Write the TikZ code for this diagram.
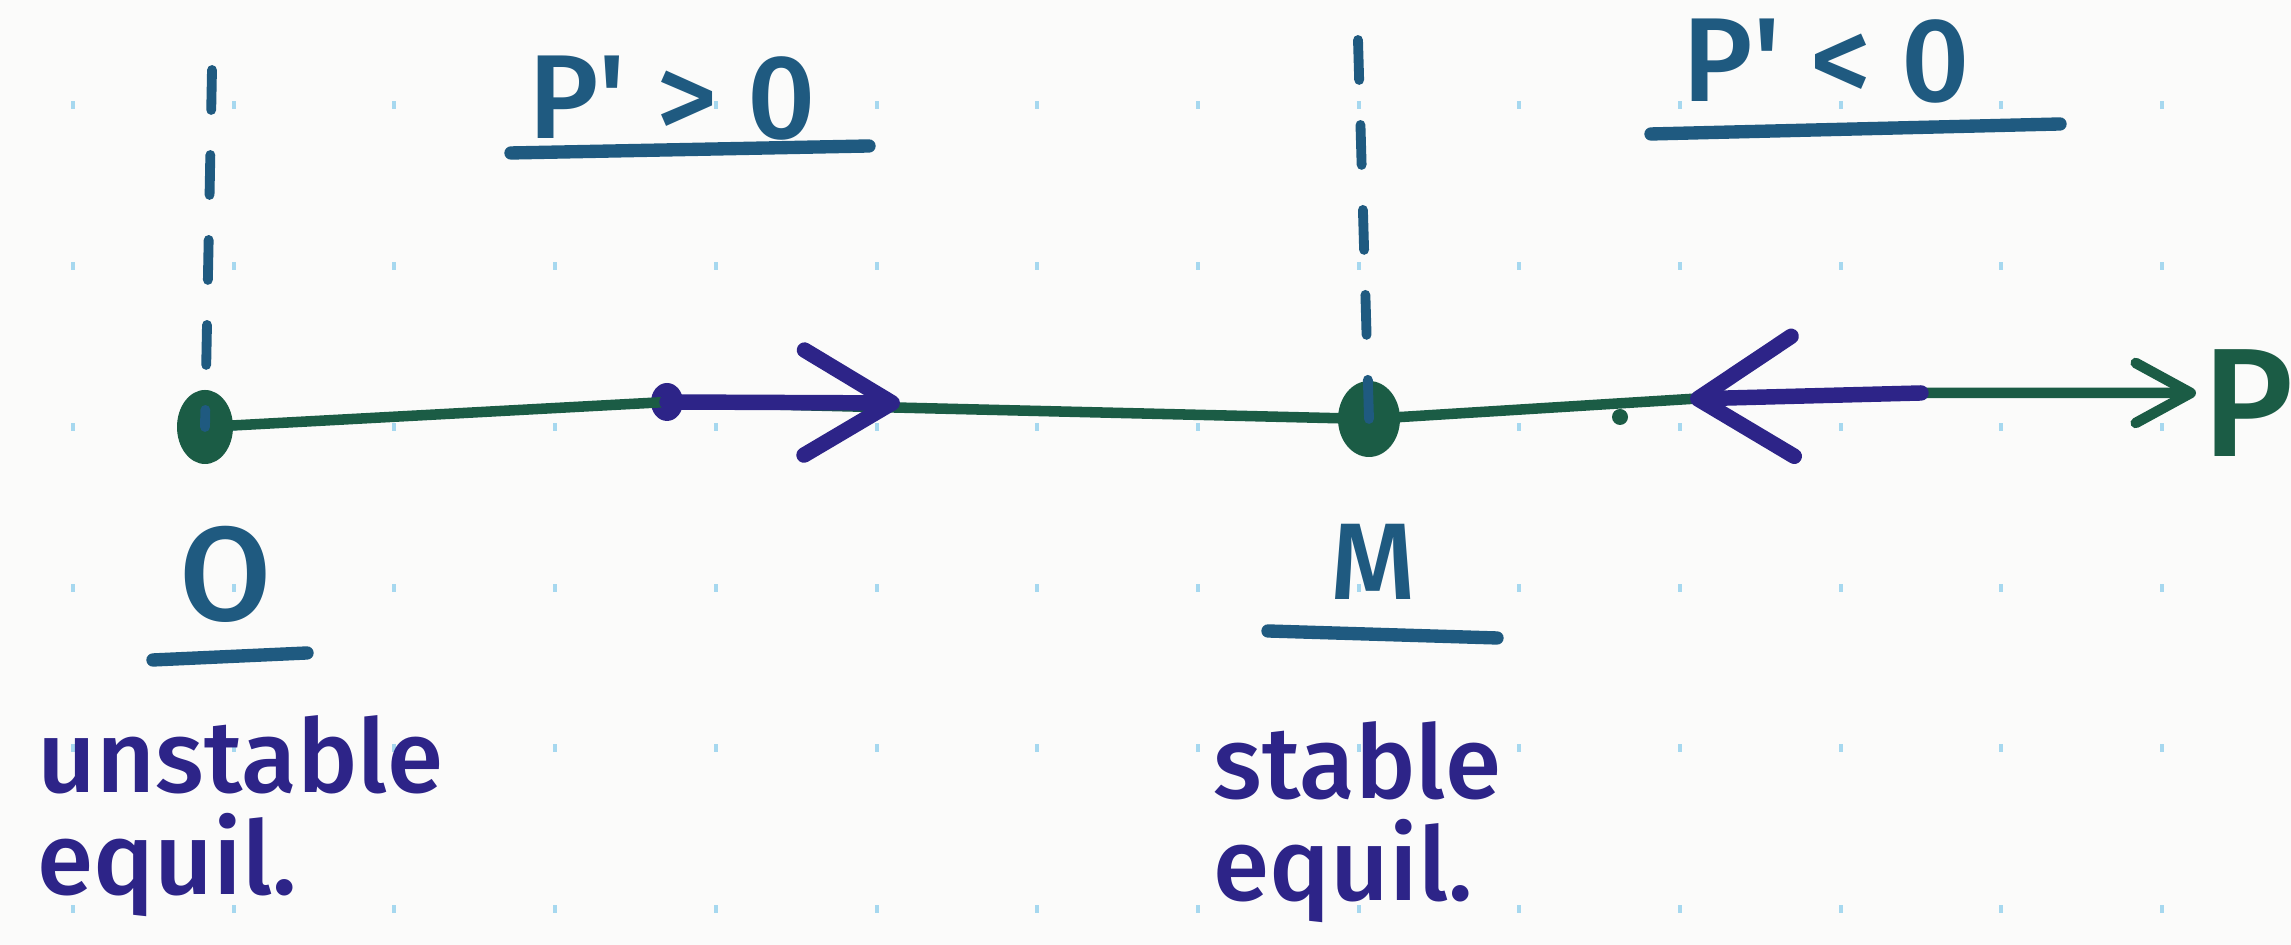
\documentclass[tikz,border=0pt]{standalone}
\usepackage{fontspec}
\IfFontExistsTF{Fira Sans Medium}
  {\setmainfont{Fira Sans Medium}}
  {\setmainfont{Fira Sans}}
\usetikzlibrary{arrows.meta,positioning,shapes.geometric}
\definecolor{Paper}{HTML}{FBFBFA}
\definecolor{Axis}{HTML}{1B5C45}
\definecolor{Sign}{HTML}{1F5A80}
\definecolor{Flow}{HTML}{2D2488}
\definecolor{Grid}{HTML}{A6D8EF}
\tikzset{
  axisline/.style={draw=Axis,line width=3pt,line cap=round,line join=round},
  eq/.style={ellipse,fill=Axis,inner sep=0pt,minimum width=5.6mm,minimum height=7.4mm},
  guide/.style={draw=Sign,line width=2.8pt,line cap=round,dash pattern=on 4mm off 4.5mm},
  flow/.style={draw=Flow,line width=4.4pt,line cap=round},
  tail/.style={ellipse,fill=Flow,inner sep=0pt,minimum width=3.2mm,minimum height=3.8mm},
  sign/.style={text=Sign,font=\fontsize{34}{34}\selectfont,inner sep=0pt},
  uline/.style={draw=Sign,line width=3.8pt,line cap=round},
  note/.style={text=Flow,font=\fontsize{29}{29}\selectfont,align=left,inner sep=0pt},
  griddot/.style={fill=Grid,draw=none}
}

\begin{document}
\begin{tikzpicture}
  \useasboundingbox[fill=Paper] (0,0) rectangle (22.91,9.45);
  % dotted paper
  \foreach \i in {0,...,13}
    \foreach \j in {0,...,5}
      \fill[griddot] ({0.71+1.607*\i},{0.32+1.607*\j}) rectangle ++(0.04,0.08);

  % equilibria and flow markers
  \node[eq] (O) at (2.05,5.18) {};
  \node[eq,minimum width=6.2mm,minimum height=7.6mm] (M) at (13.69,5.26) {};
  \node[tail] (fs) at (6.67,5.43) {};
  \coordinate (fe) at (9.0,5.42);
  \coordinate (la) at (19.21,5.52);
  \coordinate (lb) at (16.9,5.46);
  \coordinate (pend) at (21.96,5.52);
  \coordinate (otop) at (2.12,8.75);
  \coordinate (mtop) at (13.58,9.05);

  % the line
  \draw[axisline,-{Straight Barb[length=5.5mm,width=6mm,round]}]
    (O.center) -- (fs.center) -- (M.center) -- (lb) -- (la) -- (pend);
  \fill[Axis] (16.2,5.28) circle (0.08);
  \node[text=Axis,font=\fontsize{44}{44}\selectfont,anchor=west,inner sep=0pt] (plab) at (22.02,5.42) {P};

  \draw[guide] (otop) -- (O.center);
  \draw[guide] (mtop) -- (M.center);
  \draw[flow,-{Straight Barb[length=8.8mm,width=10.5mm,round]}] (fs.center) -- (fe);
  \draw[flow,-{Straight Barb[length=9.5mm,width=12mm,round]}] (la) -- (lb);

  % signs of P'
  \node[sign] (gt) at (6.72,8.47) {P\textquotesingle\ > 0};
  \draw[uline] (5.11,7.92) -- (8.69,7.99);
  \node[sign] (lt) at (18.26,8.84) {P\textquotesingle\ < 0};
  \draw[uline] (16.51,8.11) -- (20.60,8.21);

  % point labels
  \node[sign,font=\fontsize{38}{38}\selectfont] (olab) at (2.26,3.71) {O};
  \draw[uline] (1.53,2.85) -- (3.07,2.92);
  \node[sign,font=\fontsize{31}{31}\selectfont] (mlab) at (13.73,3.83) {M};
  \draw[uline] (12.68,3.14) -- (14.97,3.07);

  \node[note,anchor=north west] (unst) at (0.37,2.3) {unstable\\equil.};
  \node[note,anchor=north west] (st) at (12.13,2.24) {stable\\equil.};
\end{tikzpicture}
\end{document}
